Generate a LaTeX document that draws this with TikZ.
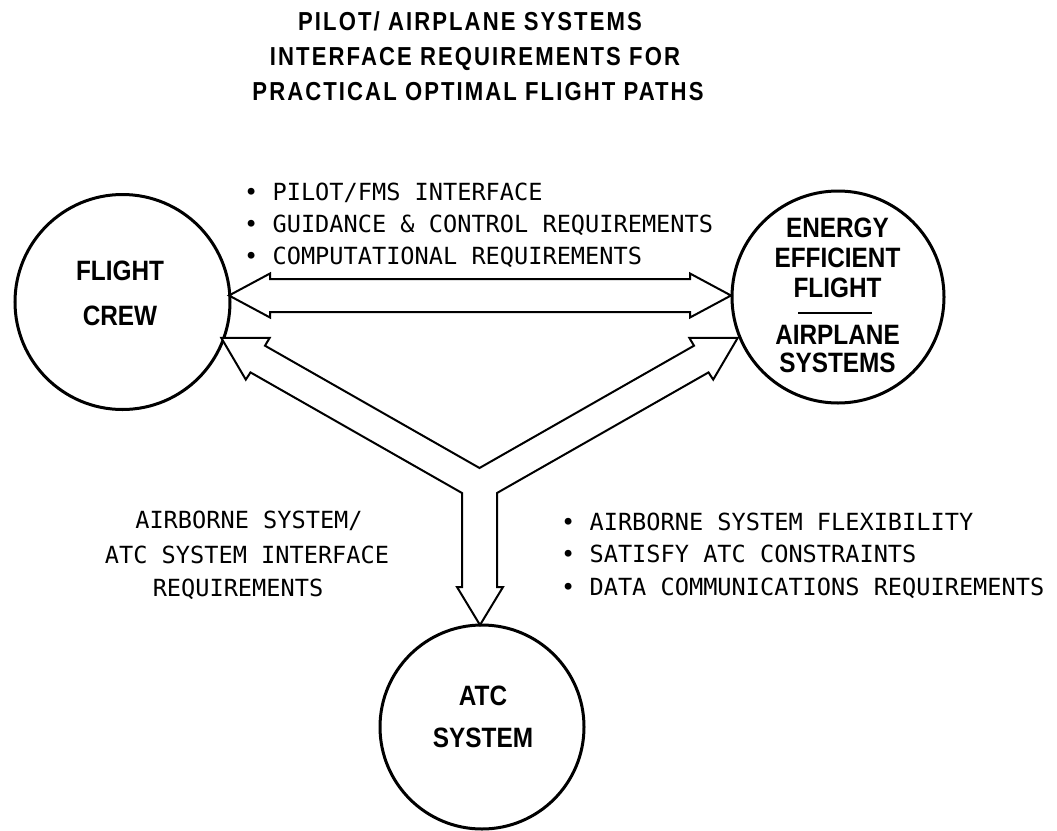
\documentclass[tikz,border=0pt]{standalone}
\usepackage{fontspec}
\usetikzlibrary{calc}
\newfontfamily\circfont[FakeStretch=0.87]{Liberation Sans Bold}
\newfontfamily\titfont[FakeStretch=0.85,LetterSpace=8]{Liberation Sans Bold}
\newfontfamily\monofont{DejaVu Sans Mono}
\tikzset{
  circ/.style={circle, draw, line width=3pt, minimum size=#1, inner sep=0pt},
  ttl/.style={font=\titfont\fontsize{26}{30}\selectfont, anchor=base, inner sep=0pt},
  ctxt/.style={font=\circfont\fontsize{28}{30}\selectfont, anchor=base, inner sep=0pt},
  lst/.style={font=\monofont\fontsize{23.6}{28}\selectfont, anchor=base west, inner sep=0pt},
  lstc/.style={font=\monofont\fontsize{23.6}{28}\selectfont, anchor=base, inner sep=0pt},
  blockarrow/.style={draw, line width=2pt, fill=white, line join=miter},
}
\begin{document}
\begin{tikzpicture}[x=1pt,y=-1pt]
\useasboundingbox (0,0) rectangle (1057,830);
% title
\node[ttl] (t1) at (470,30.5) {PILOT/ AIRPLANE SYSTEMS};
\node[ttl] (t2) at (475,65) {INTERFACE REQUIREMENTS FOR};
\node[ttl] (t3) at (478,100.5) {PRACTICAL OPTIMAL FLIGHT PATHS};
% top bullets
\node[lst] (b1) at (244,200.5) {• PILOT/FMS INTERFACE};
\node[lst] (b2) at (244,232.5) {• GUIDANCE \& CONTROL REQUIREMENTS};
\node[lst] (b3) at (244,264.5) {• COMPUTATIONAL REQUIREMENTS};
% circles
\node[circ=215pt] (crew) at (122.5,302) {};
\node[circ=212pt] (energy) at (838,297) {};
\node[circ=204pt] (atc) at (482,727) {};
% circle texts
\node[ctxt] (c1) at (120,280) {FLIGHT};
\node[ctxt] (c2) at (120,325) {CREW};
\node[ctxt] (e1) at (837.5,237) {ENERGY};
\node[ctxt] (e2) at (837.5,267) {EFFICIENT};
\node[ctxt] (e3) at (837.5,297) {FLIGHT};
\draw[line width=1.5pt] ($(energy.center)+(-40,16)$) -- ($(energy.center)+(34,16)$);
\node[ctxt] (e4) at (837.5,344) {AIRPLANE};
\node[ctxt] (e5) at (837.5,372) {SYSTEMS};
\node[ctxt] (a1) at (483,705) {ATC};
\node[ctxt] (a2) at (483,747) {SYSTEM};
% horizontal double block arrow between crew and energy
\coordinate (hl) at (229,295.5);
\coordinate (hr) at (731,295.5);
\draw[blockarrow] (hl) -- ++(41,-22) -- ++(0,5.5) -- ++(420,0) -- ++(0,-5.5)
  -- (hr) -- ++(-41,22) -- ++(0,-5.5) -- ++(-420,0) -- ++(0,5.5) -- cycle;
% Y block arrow
\coordinate (yl) at (221.3,337.9);
\coordinate (yr) at (737.7,337.9);
\coordinate (yd) at (480,625);
\draw[blockarrow] (479.5,468) -- (265,345.7) -- (269.7,337.8) -- (yl) -- (245.8,379.6)
  -- (250.5,372.4) -- (462,493) -- (462,587) -- (457,587) -- (yd) -- (503,587)
  -- (497,587) -- (497,493) -- (708.5,372.4) -- (713.2,379.6) -- (yr)
  -- (689.3,337.8) -- (694,345.7) -- cycle;
% bottom-left text
\node[lstc] (l1) at (249,528.5) {AIRBORNE SYSTEM/};
\node[lstc] (l2) at (247,563.5) {ATC SYSTEM INTERFACE};
\node[lstc] (l3) at (238,596.5) {REQUIREMENTS};
% bottom-right bullets
\node[lst] (r1) at (561,530.5) {• AIRBORNE SYSTEM FLEXIBILITY};
\node[lst] (r2) at (561,562.5) {• SATISFY ATC CONSTRAINTS};
\node[lst] (r3) at (561,595.5) {• DATA COMMUNICATIONS REQUIREMENTS};
\end{tikzpicture}
\end{document}
